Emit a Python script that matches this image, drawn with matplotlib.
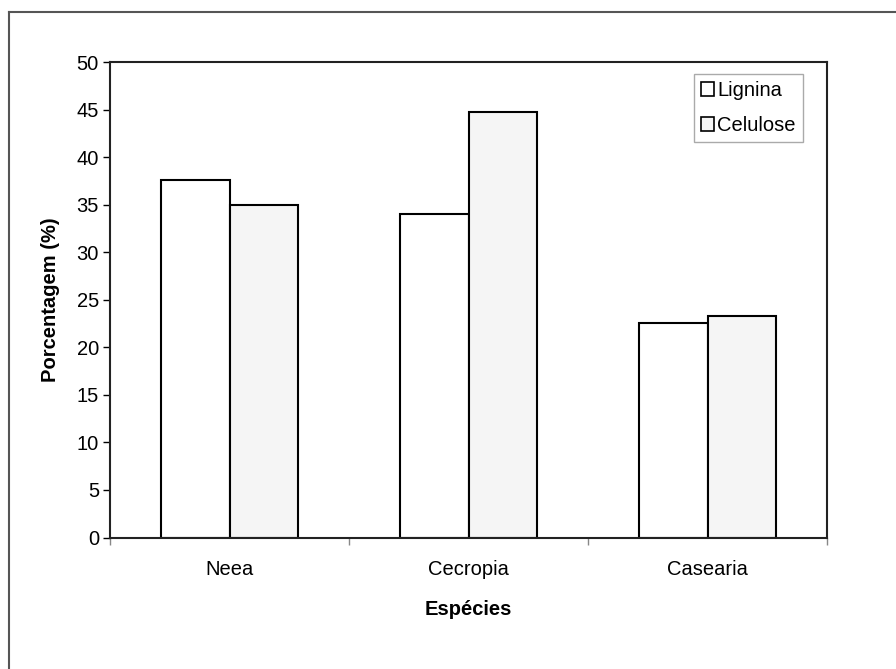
import numpy as np
import matplotlib
matplotlib.use("Agg")
from matplotlib import pyplot as plt
from matplotlib.patches import Rectangle
from matplotlib.lines import Line2D

# dati
especies = ["Neea", "Cecropia", "Casearia"]
lignina = [37.6, 34.0, 22.6]
celulose = [35.0, 44.7, 23.3]
yticks = [0, 5, 10, 15, 20, 25, 30, 35, 40, 45, 50]

plt.rcParams['font.family'] = ['Liberation Sans', 'DejaVu Sans']
fs = 14.5

fig = plt.figure(figsize=(8.96, 6.69), dpi=100)
ax = fig.add_axes([110/896, 1-537.5/669, 717/896, 475.5/669])

x = np.arange(len(especies))
w = 0.287
ax.bar(x - w/2, lignina, w, color='white', edgecolor='black', linewidth=1.5, label='Lignina')
ax.bar(x + w/2, celulose, w, color='#f5f5f5', edgecolor='black', linewidth=1.5, label='Celulose')

ax.set_xlim(-0.5, 2.5)
ax.set_ylim(0, 50)
ax.set_yticks(yticks)
ax.tick_params(axis='y', labelsize=fs, length=5, width=1, direction='out', pad=3)

# tick della x sui bordi delle categorie, etichette al centro
ax.set_xticks([-0.5, 0.5, 1.5, 2.5])
ax.set_xticklabels([])
ax.tick_params(axis='x', length=5, width=1, color='#888888', direction='out')
ax.set_xticks(x, minor=True)
ax.set_xticklabels(especies, minor=True, fontsize=fs)
ax.tick_params(axis='x', which='minor', length=0, pad=16)

for s in ax.spines.values():
    s.set_linewidth(1.5)
    s.set_color('#222222')

ax.set_ylabel('Porcentagem (%)', fontsize=fs, fontweight='bold', labelpad=12)
ax.set_xlabel('Espécies', fontsize=fs, fontweight='bold', labelpad=15)

h1 = Rectangle((0, 0), 1, 1, facecolor='white', edgecolor='black', linewidth=1.2)
h2 = Rectangle((0, 0), 1, 1, facecolor='#f5f5f5', edgecolor='black', linewidth=1.2)
leg = fig.legend([h1, h2], ['Lignina', 'Celulose'], loc='upper left',
                 bbox_to_anchor=(694/896, 1-74/669), fontsize=fs,
                 fancybox=False, handlelength=0.65, handleheight=0.65,
                 handletextpad=0.15, labelspacing=0.8, borderpad=0.35,
                 borderaxespad=0, framealpha=1)
leg.get_frame().set_edgecolor('#aaaaaa')
leg.get_frame().set_linewidth(1)

# bordo esterno
fig.add_artist(Line2D([9/896, 1], [1-12/669, 1-12/669], color='#555555', linewidth=1.5))
fig.add_artist(Line2D([9/896, 9/896], [0, 1-12/669], color='#555555', linewidth=1.5))

fig.savefig('out.png', dpi=100)
